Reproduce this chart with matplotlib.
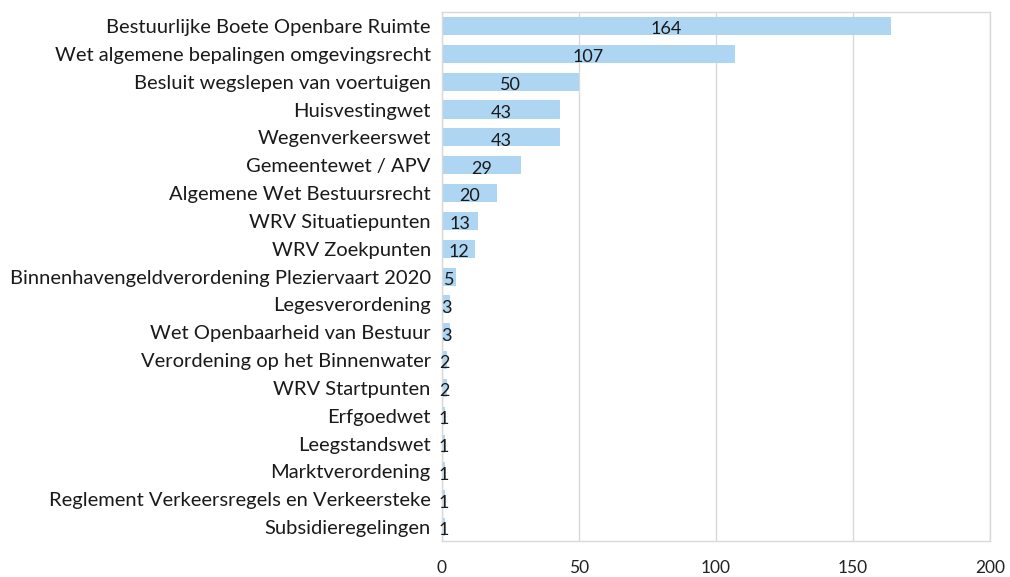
import matplotlib
matplotlib.use("Agg")
import matplotlib.pyplot as plt

categories = [
    "Bestuurlijke Boete Openbare Ruimte",
    "Wet algemene bepalingen omgevingsrecht",
    "Besluit wegslepen van voertuigen",
    "Huisvestingwet",
    "Wegenverkeerswet",
    "Gemeentewet / APV",
    "Algemene Wet Bestuursrecht",
    "WRV Situatiepunten",
    "WRV Zoekpunten",
    "Binnenhavengeldverordening Pleziervaart 2020",
    "Legesverordening",
    "Wet Openbaarheid van Bestuur",
    "Verordening op het Binnenwater",
    "WRV Startpunten",
    "Erfgoedwet",
    "Leegstandswet",
    "Marktverordening",
    "Reglement Verkeersregels en Verkeersteke",
    "Subsidieregelingen",
]
values = [164, 107, 50, 43, 43, 29, 20, 13, 12, 5, 3, 3, 2, 2, 1, 1, 1, 1, 1]
xticks = [0, 50, 100, 150, 200]

plt.rcParams['font.family'] = ['Lato', 'DejaVu Sans']

fig = plt.figure(figsize=(10.1, 5.77), dpi=100)
ax = fig.add_axes([0.4376, 0.0624, 0.9802 - 0.4376, 0.979 - 0.0624])

ypos = list(range(len(categories)))
ax.barh(ypos, values, height=0.65, color="#AED6F3", zorder=2)
ax.set_ylim(len(categories) - 0.5, -0.5)
ax.set_xlim(0, 200)
ax.set_xticks(xticks)
ax.set_xticklabels([str(t) for t in xticks], fontsize=12.5, color="#222222")
ax.set_yticks(ypos)
ax.set_yticklabels(categories, fontsize=14.5, color="#1a1a1a")
ax.tick_params(axis='x', length=0, pad=14)
ax.tick_params(axis='y', length=0, pad=8)
ax.grid(axis='x', color="#d9d9d9", linewidth=1, zorder=0)
for s in ax.spines.values():
    s.set_color("#d9d9d9")
    s.set_linewidth(1)

for y, v in zip(ypos, values):
    ax.text(v / 2, y + 0.12, str(v), ha='center', va='center', fontsize=13,
            color="#1a1a1a", zorder=3)

fig.savefig("out.png", dpi=100)
